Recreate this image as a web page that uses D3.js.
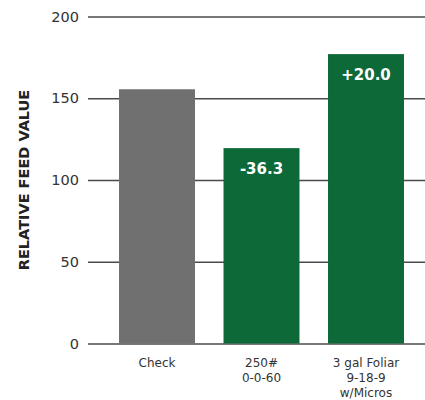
<!DOCTYPE html>
<html>
<head>
<meta charset="utf-8">
<script src="https://cdn.jsdelivr.net/npm/d3@7"></script>
<style>
  body { margin: 0; background: #fff; }
  text { font-family: "DejaVu Sans", sans-serif; }
</style>
</head>
<body>
<div id="chart"></div>
<script>
const categories = [["Check"], ["250#", "0-0-60"], ["3 gal Foliar", "9-18-9", "w/Micros"]];
const values = [155.5, 119.5, 177];
const barLabels = ["", "-36.3", "+20.0"];
const barColors = ["#6f706f", "#0e6938", "#0e6938"];
const yTicks = [0, 50, 100, 150, 200];

const width = 425, height = 400;

const svg = d3.select("#chart")
  .append("svg")
  .attr("width", width)
  .attr("height", height);

const y = d3.scaleLinear().domain([0, 200]).range([343.5, 16.5]);

const x = d3.scaleBand()
  .domain(d3.range(values.length))
  .range([104.75, 418.25])
  .paddingInner(0.273)
  .paddingOuter(0.1365);

// gridlines + tick labels
const yAxis = svg.append("g")
  .attr("transform", "translate(88,0)")
  .call(d3.axisLeft(y).tickValues(yTicks).tickSize(-(width - 88)).tickPadding(9))
  .call(g => g.select(".domain").remove());

yAxis.selectAll(".tick line")
  .attr("stroke", "#4a4a4a")
  .attr("stroke-width", 1.3);
yAxis.selectAll(".tick text")
  .attr("fill", "#333")
  .attr("font-size", 14.5)
  .attr("font-family", "DejaVu Sans, sans-serif");

// bars
svg.selectAll("rect.bar")
  .data(values)
  .join("rect")
  .attr("class", "bar")
  .attr("x", (d, i) => x(i))
  .attr("y", d => y(d))
  .attr("width", x.bandwidth())
  .attr("height", d => y(0) - y(d))
  .attr("fill", (d, i) => barColors[i]);

// labels inside bars
svg.selectAll("text.val")
  .data(values)
  .join("text")
  .attr("class", "val")
  .attr("x", (d, i) => x(i) + x.bandwidth() / 2)
  .attr("y", d => y(d) + 26)
  .attr("text-anchor", "middle")
  .attr("fill", "#fff")
  .attr("font-size", 15)
  .attr("font-weight", "bold")
  .text((d, i) => barLabels[i]);

// category labels
const cat = svg.selectAll("text.cat")
  .data(categories)
  .join("text")
  .attr("class", "cat")
  .attr("text-anchor", "middle")
  .attr("fill", "#333")
  .attr("font-size", 12);

cat.selectAll("tspan")
  .data(d => d)
  .join("tspan")
  .attr("x", function () {
    const i = categories.indexOf(d3.select(this.parentNode).datum());
    return x(i) + x.bandwidth() / 2;
  })
  .attr("y", (d, j) => 367 + j * 15)
  .text(d => d);

// y title
svg.append("text")
  .attr("transform", "translate(29,180) rotate(-90)")
  .attr("text-anchor", "middle")
  .attr("fill", "#222")
  .attr("font-size", 14.5)
  .attr("font-weight", "bold")
  .text("RELATIVE FEED VALUE");
</script>
</body>
</html>
